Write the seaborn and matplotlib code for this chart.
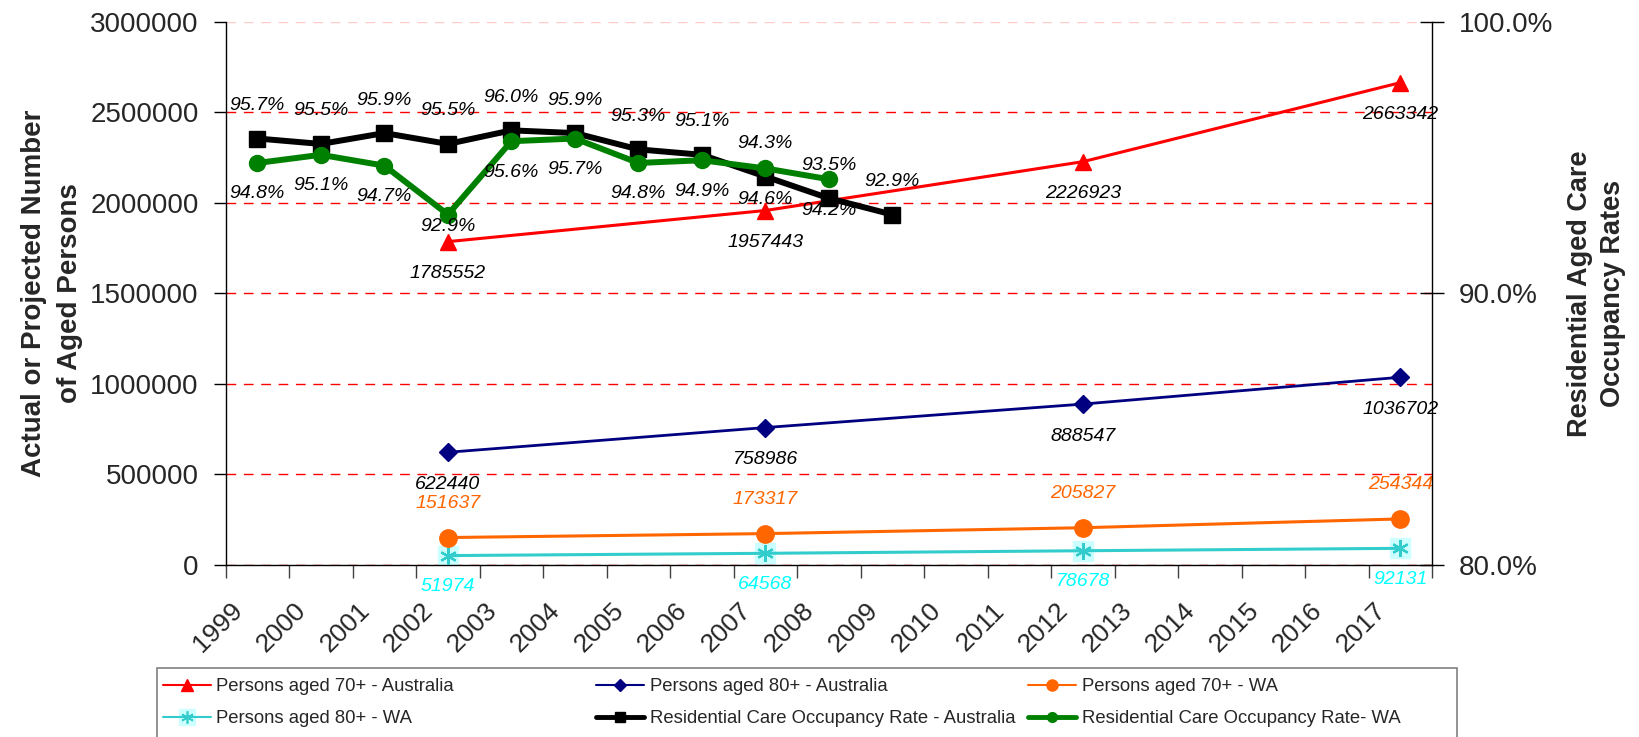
import numpy as np
import pandas as pd
import matplotlib
matplotlib.use("Agg")
import matplotlib.pyplot as plt
import seaborn as sns
from matplotlib.lines import Line2D
from matplotlib.patches import Rectangle
from matplotlib.legend_handler import HandlerTuple
from matplotlib.ticker import FuncFormatter
import matplotlib.transforms as mtransforms

# ---------------- data ----------------
YEARS = [str(y) for y in range(1999, 2018)]
POP_YEARS = ["2002", "2007", "2012", "2017"]
AUS_70 = [1785552, 1957443, 2226923, 2663342]
AUS_80 = [622440, 758986, 888547, 1036702]
WA_70 = [151637, 173317, 205827, 254344]
WA_80 = [51974, 64568, 78678, 92131]
OCC_AUS_YEARS = ["1999", "2000", "2001", "2002", "2003", "2004", "2005", "2006", "2007", "2008", "2009"]
OCC_AUS = [95.7, 95.5, 95.9, 95.5, 96.0, 95.9, 95.3, 95.1, 94.3, 93.5, 92.9]
OCC_WA_YEARS = ["1999", "2000", "2001", "2002", "2003", "2004", "2005", "2006", "2007", "2008"]
OCC_WA = [94.8, 95.1, 94.7, 92.9, 95.6, 95.7, 94.8, 94.9, 94.6, 94.2]
LEFT_TICKS = [0, 500000, 1000000, 1500000, 2000000, 2500000, 3000000]
RIGHT_TICKS = [80, 90, 100]
SERIES_NAMES = [
    "Persons aged 70+ - Australia",
    "Persons aged 80+ - Australia",
    "Persons aged 70+ - WA",
    "Persons aged 80+ - WA",
    "Residential Care Occupancy Rate - Australia",
    "Residential Care Occupancy Rate- WA",
]
LEFT_TITLE = "Actual or Projected Number\nof Aged Persons"
RIGHT_TITLE = "Residential Aged Care\nOccupancy Rates"

# ---------------- style ----------------
sns.set_theme(style="white")
plt.rcParams['font.family'] = ['Liberation Sans', 'DejaVu Sans']

RED = "#FF0000"
NAVY = "#000080"
ORANGE = "#FF6600"
CYAN = "#33CCCC"
CYAN_TXT = "#00FFFF"
CYAN_BG = "#CCFFFF"
GREEN = "#008000"
BLACK = "#000000"

W, H = 1640, 737
fig = plt.figure(figsize=(W / 100, H / 100), dpi=100)
L, R, T, B = 225.7, 1432.0, 21.7, 565.0
ax = fig.add_axes([L / W, 1 - B / H, (R - L) / W, (B - T) / H])
ax2 = ax.twinx()

pos = {y: i for i, y in enumerate(YEARS)}


def draw(axis, years, vals, color, marker, ms, lw, mec=None, mew=1.0, ls='-', z=3):
    xs = [pos[y] for y in years]
    sns.lineplot(x=xs, y=vals, ax=axis, color=color, marker=marker, markersize=ms,
                 linewidth=lw, linestyle=ls, markeredgecolor=mec or color,
                 markerfacecolor=color, markeredgewidth=mew, zorder=z,
                 legend=False, estimator=None, sort=False)


def labels(axis, years, vals, fmt, color, dy, overrides=None):
    overrides = overrides or {}
    for y, v in zip(years, vals):
        axis.annotate(fmt(v), (pos[y], v), xytext=(0, overrides.get(y, dy)),
                      textcoords='offset pixels', ha='center', va='center',
                      fontsize=14, style='italic', color=color, zorder=6)


num = lambda v: f"{int(v)}"
pct = lambda v: f"{v:.1f}%"

# population series (left axis)
draw(ax, POP_YEARS, AUS_70, RED, '^', 12, 2.2)
draw(ax, POP_YEARS, AUS_80, NAVY, 'D', 9, 2.0)
draw(ax, POP_YEARS, WA_70, ORANGE, 'o', 12.5, 2.2)
draw(ax, POP_YEARS, WA_80, CYAN_BG, 's', 15, 0, ls='', z=2)
draw(ax, POP_YEARS, WA_80, CYAN, (6, 2, 0), 12, 2.2, mew=1.6)

labels(ax, POP_YEARS, AUS_70, num, BLACK, -32)
labels(ax, POP_YEARS, AUS_80, num, BLACK, -32)
labels(ax, POP_YEARS, WA_70, num, ORANGE, 34)
labels(ax, POP_YEARS, WA_80, num, CYAN_TXT, -31)

# occupancy series (right axis)
draw(ax2, OCC_AUS_YEARS, OCC_AUS, BLACK, 's', 12, 4.3)
draw(ax2, OCC_WA_YEARS, OCC_WA, GREEN, 'o', 11.5, 4.3)
labels(ax2, OCC_AUS_YEARS, OCC_AUS, pct, BLACK, 33)
labels(ax2, OCC_WA_YEARS, OCC_WA, pct, BLACK, -31, overrides={"2002": -12})

# ---------------- axes ----------------
ax.set_xlim(-0.5, len(YEARS) - 0.5)
ax.set_xticks(range(len(YEARS)))
ax.set_xticklabels(YEARS, rotation=45, ha='right', va='top', fontsize=19)
ax.set_xticks(np.arange(-0.5, len(YEARS)), minor=True)
ax.tick_params(axis='x', which='major', length=0, pad=24, bottom=True)
ax.tick_params(axis='x', which='minor', length=9, width=1, direction='out',
               color='#404040', bottom=True)
shift = mtransforms.ScaledTranslation(-10 / 100, 0, fig.dpi_scale_trans)
for lbl in ax.get_xticklabels():
    lbl.set_transform(lbl.get_transform() + shift)

ax.set_ylim(LEFT_TICKS[0], LEFT_TICKS[-1])
ax.set_yticks(LEFT_TICKS)
ax.yaxis.set_major_formatter(FuncFormatter(lambda v, p: f"{int(v)}"))
ax.tick_params(axis='y', which='major', length=8.5, width=1, direction='out',
               pad=11, labelsize=20, left=True, color='black')
ax.yaxis.grid(True, color=RED, linestyle=(0, (7, 5.5)), linewidth=1)
ax.xaxis.grid(False)
ax.get_ygridlines()[-1].set_color('#FFCCCC')

ax2.set_ylim(RIGHT_TICKS[0], RIGHT_TICKS[-1])
ax2.set_yticks(RIGHT_TICKS)
ax2.yaxis.set_major_formatter(FuncFormatter(lambda v, p: f"{v:.1f}%"))
ax2.tick_params(axis='y', which='major', length=17, width=1, direction='inout',
                pad=11, labelsize=20, right=True, color='black')
ax2.grid(False)

for s in ['top', 'right']:
    ax.spines[s].set_visible(False)
for s in ['top', 'left', 'bottom']:
    ax2.spines[s].set_visible(False)
for sp in [ax.spines['left'], ax.spines['bottom'], ax2.spines['right']]:
    sp.set_color('black')
    sp.set_linewidth(1)

ax.set_ylabel(LEFT_TITLE, fontsize=20, fontweight='bold', linespacing=1.5)
ax.yaxis.set_label_coords(-0.1444, 0.5)
ax.yaxis.label.set_va('center')
ax2.set_ylabel(RIGHT_TITLE, fontsize=19.5, fontweight='bold', linespacing=1.35,
               rotation=90)
ax2.yaxis.set_label_coords(1.1364, 0.5)
ax2.yaxis.label.set_va('center')

# ---------------- legend ----------------
h_red = Line2D([], [], color=RED, lw=1.5, marker='^', ms=8, mec=RED)
h_navy = Line2D([], [], color=NAVY, lw=1.5, marker='D', ms=6, mec=NAVY)
h_orange = Line2D([], [], color=ORANGE, lw=1.5, marker='o', ms=8, mec=ORANGE)
h_cyan_bg = Line2D([], [], color=CYAN_BG, lw=0, marker='s', ms=11, mec=CYAN_BG)
h_cyan = Line2D([], [], color=CYAN, lw=1.5, marker=(6, 2, 0), ms=9, mew=1.2, mec=CYAN)
h_black = Line2D([], [], color=BLACK, lw=3.5, marker='s', ms=7, mec=BLACK)
h_green = Line2D([], [], color=GREEN, lw=3.5, marker='o', ms=7, mec=GREEN)

cols = [
    ([h_red, (h_cyan_bg, h_cyan)], [SERIES_NAMES[0], SERIES_NAMES[3]], 162.7),
    ([h_navy, h_black], [SERIES_NAMES[1], SERIES_NAMES[4]], 596.0),
    ([h_orange, h_green], [SERIES_NAMES[2], SERIES_NAMES[5]], 1028.0),
]
for hs, ls_, x in cols:
    fig.legend(handles=hs, labels=ls_, loc='upper left',
               bbox_to_anchor=(x / W, 1 - 678 / H), frameon=False,
               borderpad=0, borderaxespad=0, handlelength=2.6,
               handletextpad=0.3, labelspacing=0.82, fontsize=13.3,
               handler_map={tuple: HandlerTuple(ndivide=1)})

fig.patches.append(Rectangle((157.3 / W, -0.01), (1456.7 - 157.3) / W,
                             (1 - 668.3 / H) + 0.01, transform=fig.transFigure,
                             fill=False, edgecolor='#808080', linewidth=1.2))

fig.savefig("out.png", dpi=100)
